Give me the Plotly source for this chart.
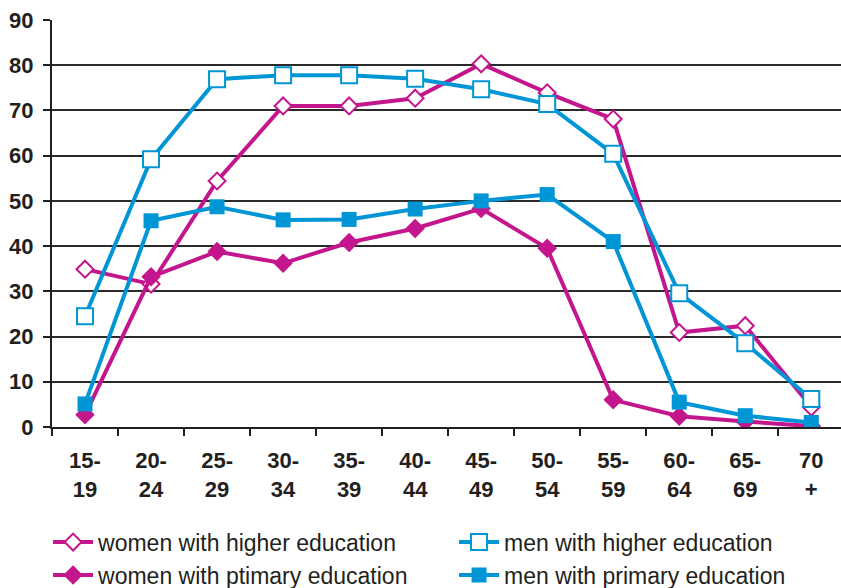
import plotly.graph_objects as go

categories = ["15-<br>19", "20-<br>24", "25-<br>29", "30-<br>34", "35-<br>39", "40-<br>44",
              "45-<br>49", "50-<br>54", "55-<br>59", "60-<br>64", "65-<br>69", "70<br>+"]

women_higher = [34.9, 31.6, 54.4, 71.0, 71.0, 72.7, 80.3, 73.9, 68.1, 20.9, 22.4, 4.4]
men_higher = [24.5, 59.2, 76.9, 77.8, 77.8, 77.0, 74.7, 71.4, 60.4, 29.6, 18.5, 6.2]
women_primary = [2.7, 33.2, 38.8, 36.2, 40.8, 43.9, 48.3, 39.5, 6.0, 2.4, 1.2, 0.2]
men_primary = [5.1, 45.6, 48.7, 45.8, 45.9, 48.2, 50.0, 51.4, 41.0, 5.5, 2.5, 1.0]

MAG = "#C4168C"
BLUE = "#0096D6"
TXT = "#231F20"

fig = go.Figure()
fig.add_trace(go.Scatter(x=categories, y=women_higher, name="women with higher education",
                         mode="lines+markers", line=dict(color=MAG, width=4),
                         marker=dict(symbol="diamond", size=13, color="white",
                                     line=dict(color=MAG, width=2))))
fig.add_trace(go.Scatter(x=categories, y=men_higher, name="men with higher education",
                         mode="lines+markers", line=dict(color=BLUE, width=4),
                         marker=dict(symbol="square", size=16, color="white",
                                     line=dict(color=BLUE, width=2))))
fig.add_trace(go.Scatter(x=categories, y=women_primary, name="women with ptimary education",
                         mode="lines+markers", line=dict(color=MAG, width=4),
                         marker=dict(symbol="diamond", size=15, color=MAG)))
fig.add_trace(go.Scatter(x=categories, y=men_primary, name="men with primary education",
                         mode="lines+markers", line=dict(color=BLUE, width=4),
                         marker=dict(symbol="square", size=15, color=BLUE)))

fig.update_layout(
    width=841, height=588,
    margin=dict(l=52, r=0, t=20, b=161, autoexpand=False),
    paper_bgcolor="white", plot_bgcolor="white",
    font=dict(family="Liberation Sans, Arial, sans-serif", color=TXT),
    showlegend=True,
    legend=dict(orientation="h", x=-0.005, xanchor="left", y=-0.23, yanchor="top",
                entrywidth=351, entrywidthmode="pixels",
                font=dict(size=23, color=TXT), itemwidth=40,
                traceorder="normal", bgcolor="rgba(0,0,0,0)"),
)
fig.update_xaxes(type="category", range=[-0.5, 11.45], tickson="boundaries",
                 ticks="outside", ticklen=7, tickwidth=2, tickcolor=TXT,
                 showline=True, linecolor=TXT, linewidth=2, showgrid=False,
                 ticklabelstandoff=13,
                 tickfont=dict(size=22, family="Liberation Sans, Arial, sans-serif", color=TXT, weight="bold"),
                 tickangle=0)
fig.update_yaxes(range=[0, 90], dtick=10, ticks="outside", ticklen=7, tickwidth=2,
                 tickcolor=TXT, showline=True, linecolor=TXT, linewidth=2,
                 showgrid=True, gridcolor="#2a2a2a", gridwidth=2, zeroline=False,
                 ticklabelstandoff=5,
                 tickfont=dict(size=22, family="Liberation Sans, Arial, sans-serif", color=TXT, weight="bold"))

fig.write_html("out.html")
